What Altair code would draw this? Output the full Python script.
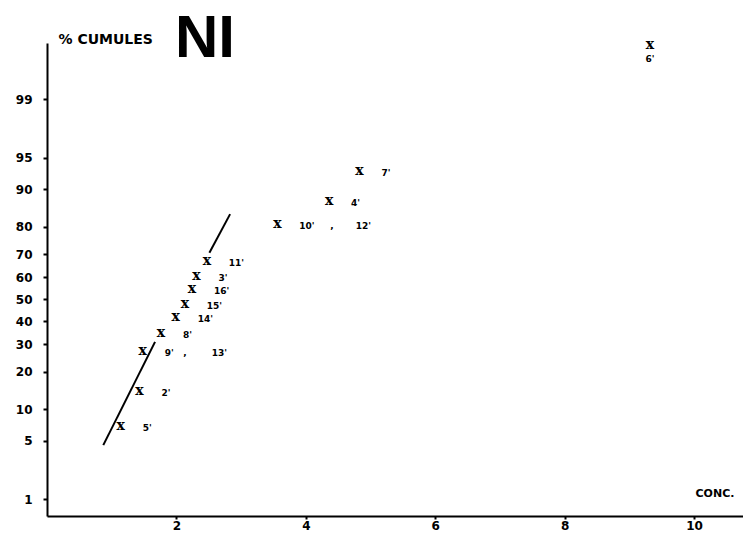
import altair as alt
import pandas as pd
from statistics import NormalDist

nd = NormalDist()
S = "\u00a0"

# Samples (label, concentration, cumulative %)
sample_labels = ["5'", "2'", "9'" + S * 3 + "," + S * 8 + "13'", "8'", "14'", "15'", "16'", "3'", "11'",
                 "10'" + S * 5 + "," + S * 7 + "12'", "4'", "7'"]
conc = [1.14, 1.43, 1.48, 1.76, 1.99, 2.13, 2.24, 2.31, 2.47, 3.56, 4.36, 4.83]
cum_pct = [6.7, 13.7, 26.7, 33.9, 40.8, 46.9, 53.9, 59.6, 66.5, 80.3, 86.8, 92.9]

# outlier sample
outlier_label = ["6'"]
outlier_conc = [9.32]
outlier_pct = [99.83]

# fitted line (two drawn segments)
fit_conc = [0.87, 1.67, 2.51, 2.83]
fit_pct = [4.5, 31.0, 70.6, 83.9]
fit_seg = [1, 1, 2, 2]

y_ticks_pct = [1, 5, 10, 20, 30, 40, 50, 60, 70, 80, 90, 95, 99]
x_ticks = [2, 4, 6, 8, 10]

df = pd.DataFrame({"label": sample_labels, "conc": conc,
                   "z": [nd.inv_cdf(p / 100) for p in cum_pct]})
df6 = pd.DataFrame({"label": outlier_label, "conc": outlier_conc,
                    "z": [nd.inv_cdf(p / 100) for p in outlier_pct]})
dfl = pd.DataFrame({"conc": fit_conc, "z": [nd.inv_cdf(p / 100) for p in fit_pct], "seg": fit_seg})

xs = alt.Scale(domain=[0, 10.757], nice=False, zero=False)
ys = alt.Scale(domain=[-2.52, 2.98], nice=False, zero=False)

label_expr = "format(round(cumulativeNormal(datum.value)*100), 'd')"

X = alt.X("conc:Q", scale=xs,
          axis=alt.Axis(values=x_ticks, title="CONC.", titleX=648, titleY=-23,
                        titleAlign="left", titleBaseline="middle", titleFontSize=11,
                        titleFont="DejaVu Sans", titleFontWeight="bold",
                        labelPadding=1, tickSize=3))
Y = alt.Y("z:Q", scale=ys,
          axis=alt.Axis(values=[nd.inv_cdf(p / 100) for p in y_ticks_pct], labelExpr=label_expr,
                        title="% CUMULES", titleAngle=0, titleX=11, titleY=-4,
                        titleAlign="left", titleBaseline="middle", titleFontSize=14,
                        titleFont="DejaVu Sans", titleFontWeight="bold",
                        labelPadding=11, tickSize=4))

line = alt.Chart(dfl).mark_line(color="black", strokeWidth=2).encode(x=X, y=Y, detail="seg:N")

marks = alt.Chart(df).mark_text(text="x", font="DejaVu Serif", fontWeight="bold", fontSize=14,
                                baseline="middle", align="center", dy=-2, color="black").encode(x=X, y=Y)
labels = alt.Chart(df).mark_text(font="DejaVu Sans", fontWeight="bold", fontSize=9,
                                 baseline="middle", align="left", dx=22, color="black").encode(
    x=X, y=Y, text="label:N")

mark6 = alt.Chart(df6).mark_text(text="x", font="DejaVu Serif", fontWeight="bold", fontSize=14,
                                 baseline="middle", align="center", dy=-2, color="black").encode(x=X, y=Y)
label6 = alt.Chart(df6).mark_text(font="DejaVu Sans", fontWeight="bold", fontSize=9,
                                  baseline="middle", align="center", dy=12, color="black").encode(
    x=X, y=Y, text="label:N")

chart = alt.layer(line, marks, labels, mark6, label6).properties(
    width=696, height=473,
    title=alt.TitleParams("NI", anchor="start", frame="group", fontSize=60,
                          font="Liberation Sans", fontWeight="bold", dx=128, offset=-38,
                          color="black"),
    autosize=alt.AutoSizeParams(type="none"),
    padding={"left": 47, "top": 43, "right": 0, "bottom": 22},
    background="white",
).configure_view(stroke=None).configure_axis(
    domainColor="black", domainWidth=2, tickColor="black", tickWidth=2, grid=False,
    labelFont="DejaVu Sans", labelFontWeight="bold", labelFontSize=12, labelColor="black",
    titleColor="black",
)

chart.save("out.html", embed_options={"renderer": "svg", "actions": False})
